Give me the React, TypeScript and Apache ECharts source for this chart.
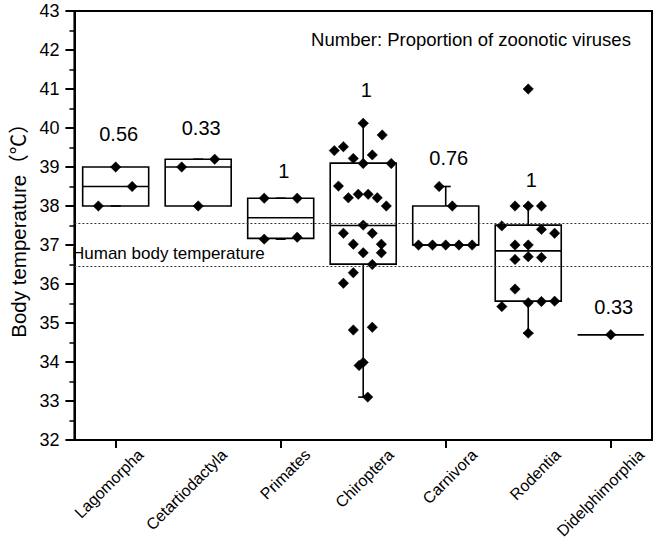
import React, { useEffect, useRef } from "react";
import * as echarts from "echarts";

const categories = ["Lagomorpha", "Cetartiodactyla", "Primates", "Chiroptera", "Carnivora", "Rodentia", "Didelphimorphia"];

// [lower whisker, Q1, median, Q3, upper whisker]
const boxStats = [
  [38.0, 38.0, 38.5, 39.0, 39.0],
  [38.0, 38.0, 39.0, 39.2, 39.2],
  [37.15, 37.17, 37.7, 38.2, 38.2],
  [33.1, 36.51, 37.5, 39.1, 40.12],
  [37.0, 37.0, 37.0, 38.0, 38.5],
  [34.74, 35.56, 36.85, 37.51, 38.0],
  [34.7, 34.7, 34.7, 34.7, 34.7],
];

// raw body temperatures per order
const lagomorpha = [38.0, 39.0, 38.5];
const cetartiodactyla = [39.0, 38.0, 39.2];
const primates = [38.2, 37.15, 38.2, 37.2];
const chiroptera = [40.12, 39.82, 39.52, 39.42, 39.31, 39.22, 39.09, 39.09, 38.51, 38.3, 38.3, 38.21, 38.21, 38.0, 37.51, 37.3, 37.3, 37.02, 37.02, 36.8, 36.8, 36.5, 36.29, 36.02, 34.82, 34.89, 33.91, 33.99, 33.1];
const carnivora = [38.5, 38.0, 37.0, 37.0, 37.0, 37.0, 37.0];
const rodentia = [41.0, 38.0, 38.0, 38.0, 37.49, 37.4, 37.3, 37.0, 37.0, 36.63, 36.7, 36.68, 35.87, 35.42, 35.52, 35.55, 35.56, 34.74];
const didelphimorphia = [34.7];

// horizontal jitter (fraction of category band) for the overlapping points
const lagomorphaJitter = [-0.21, 0, 0.2];
const cetartiodactylaJitter = [-0.2, 0, 0.2];
const primatesJitter = [-0.2, -0.2, 0.2, 0.2];
const chiropteraJitter = [0, 0.23, -0.24, -0.35, 0.11, -0.12, 0, 0.34, -0.3, -0.06, 0.06, -0.18, 0.17, 0.28, 0, -0.24, 0.11, -0.12, 0.22, 0, 0.22, 0.11, -0.12, -0.24, -0.12, 0.11, -0.05, 0, 0.055];
const carnivoraJitter = [-0.08, 0.08, -0.33, -0.16, 0, 0.16, 0.32];
const rodentiaJitter = [0, -0.16, 0, 0.16, -0.32, 0.16, 0.32, -0.16, 0, -0.16, 0, 0.16, -0.16, -0.32, 0, 0.16, 0.32, 0];
const didelphimorphiaJitter = [0];

const groupValues = [lagomorpha, cetartiodactyla, primates, chiroptera, carnivora, rodentia, didelphimorphia];
const groupJitter = [lagomorphaJitter, cetartiodactylaJitter, primatesJitter, chiropteraJitter, carnivoraJitter, rodentiaJitter, didelphimorphiaJitter];

// proportion of zoonotic viruses, and the height at which it is written
const proportionLabels = ["0.56", "0.33", "1", "1", "0.76", "1", "0.33"];
const proportionY = [39.84, 39.99, 38.91, 40.97, 39.22, 38.66, 35.42];

const humanTempBand = [37.55, 36.45];

const FONT = "'Liberation Sans', Arial, 'Noto Sans CJK SC', sans-serif";

export default function App() {
  const ref = useRef<HTMLDivElement>(null);

  useEffect(() => {
    document.body.style.margin = "0";
    const chart = echarts.init(ref.current!, null, { renderer: "svg" });

    const boxData = boxStats.map((s, i) => [i, ...s]);
    const pointData: number[][] = [];
    groupValues.forEach((vals, i) => {
      vals.forEach((v, k) => pointData.push([i, v, groupJitter[i][k]]));
    });
    const annData = proportionY.map((y, i) => [i, y]);

    const option: any = {
      animation: false,
      backgroundColor: "#fff",
      textStyle: { fontFamily: FONT },
      grid: [
        { left: 68, top: 11, width: 584, height: 429, show: true, borderColor: "#000", borderWidth: 2, backgroundColor: "transparent" },
        { left: 99, top: 11, width: 584, height: 429, show: false, outerBoundsMode: "none" },
      ],
      xAxis: [
        {
          type: "category",
          gridIndex: 0,
          data: categories,
          boundaryGap: true,
          axisLine: { show: true, lineStyle: { color: "#000", width: 2 } },
          axisTick: { show: true, alignWithLabel: true, length: 8, lineStyle: { color: "#000", width: 2 } },
          axisLabel: { show: false },
          splitLine: { show: false },
        },
        {
          type: "category",
          gridIndex: 1,
          data: categories,
          boundaryGap: true,
          axisLine: { show: false },
          axisTick: { show: false },
          axisLabel: { show: true, rotate: 45, fontSize: 16, color: "#000", margin: 12, fontFamily: FONT, interval: 0 },
          splitLine: { show: false },
        },
      ],
      yAxis: [
        {
          type: "value",
          gridIndex: 0,
          min: 32,
          max: 43,
          interval: 1,
          name: "Body temperature（℃）",
          nameLocation: "middle",
          nameGap: 40,
          nameTextStyle: { fontSize: 20.5, color: "#000", fontFamily: FONT },
          axisLine: { show: true, lineStyle: { color: "#000", width: 2 } },
          axisTick: { show: true, inside: false, length: 9, lineStyle: { color: "#000", width: 2 } },
          minorTick: { show: true, splitNumber: 2, length: 5, lineStyle: { color: "#000", width: 1.5 } },
          axisLabel: { fontSize: 18, color: "#000", margin: 15, fontFamily: FONT },
          splitLine: { show: false },
          minorSplitLine: { show: false },
        },
        { type: "value", gridIndex: 1, min: 32, max: 43, show: false },
      ],
      series: [
        {
          type: "custom",
          name: "box",
          xAxisIndex: 0,
          yAxisIndex: 0,
          data: boxData,
          encode: { x: 0, y: [1, 2, 3, 4, 5] },
          renderItem: (params: any, api: any) => {
            const i = api.value(0);
            const pLow = api.coord([i, api.value(1)]);
            const pQ1 = api.coord([i, api.value(2)]);
            const pMed = api.coord([i, api.value(3)]);
            const pQ3 = api.coord([i, api.value(4)]);
            const pHigh = api.coord([i, api.value(5)]);
            const band = api.size([1, 0])[0];
            const half = band * 0.4;
            const cap = 5;
            const cx = pMed[0];
            const st = { stroke: "#000", lineWidth: 1.6, fill: "none" };
            return {
              type: "group",
              children: [
                { type: "line", shape: { x1: cx, y1: pQ3[1], x2: cx, y2: pHigh[1] }, style: st },
                { type: "line", shape: { x1: cx, y1: pQ1[1], x2: cx, y2: pLow[1] }, style: st },
                { type: "line", shape: { x1: cx - cap, y1: pHigh[1], x2: cx + cap, y2: pHigh[1] }, style: st },
                { type: "line", shape: { x1: cx - cap, y1: pLow[1], x2: cx + cap, y2: pLow[1] }, style: st },
                { type: "rect", shape: { x: cx - half, y: pQ3[1], width: 2 * half, height: pQ1[1] - pQ3[1] }, style: st },
                { type: "line", shape: { x1: cx - half, y1: pMed[1], x2: cx + half, y2: pMed[1] }, style: st },
              ],
            };
          },
          markLine: {
            silent: true,
            symbol: ["none", "none"],
            label: { show: false },
            lineStyle: { type: [2, 2], color: "#333", width: 1 },
            data: humanTempBand.map((v) => ({ yAxis: v })),
          },
          z: 2,
        },
        {
          type: "custom",
          name: "points",
          xAxisIndex: 0,
          yAxisIndex: 0,
          data: pointData,
          encode: { x: 0, y: 1 },
          renderItem: (params: any, api: any) => {
            const c = api.coord([api.value(0), api.value(1)]);
            const band = api.size([1, 0])[0];
            const x = c[0] + api.value(2) * band;
            const y = c[1];
            const r = 5.2;
            return {
              type: "polygon",
              shape: { points: [[x, y - r], [x + r, y], [x, y + r], [x - r, y]] },
              style: { fill: "#000", stroke: "#000", lineWidth: 0.5 },
            };
          },
          z: 3,
        },
        {
          type: "custom",
          name: "proportion",
          xAxisIndex: 0,
          yAxisIndex: 0,
          data: annData,
          encode: { x: 0, y: 1 },
          renderItem: (params: any, api: any) => {
            const c = api.coord([api.value(0), api.value(1)]);
            return {
              type: "text",
              x: c[0] + 3,
              y: c[1],
              style: {
                text: proportionLabels[params.dataIndex],
                fontSize: 20,
                fontFamily: FONT,
                fill: "#000",
                align: "center",
                verticalAlign: "middle",
              },
            };
          },
          z: 4,
        },
      ],
      graphic: [
        {
          type: "text",
          x: 471,
          y: 39,
          style: { text: "Number: Proportion of zoonotic viruses", fontSize: 18.5, fontFamily: FONT, fill: "#000", align: "center", verticalAlign: "middle" },
        },
        {
          type: "text",
          x: 72,
          y: 253,
          style: { text: "Human body temperature", fontSize: 17, fontFamily: FONT, fill: "#000", align: "left", verticalAlign: "middle" },
        },
      ],
    };

    chart.setOption(option);
    return () => chart.dispose();
  }, []);

  return <div ref={ref} style={{ width: 657, height: 542 }} />;
}
